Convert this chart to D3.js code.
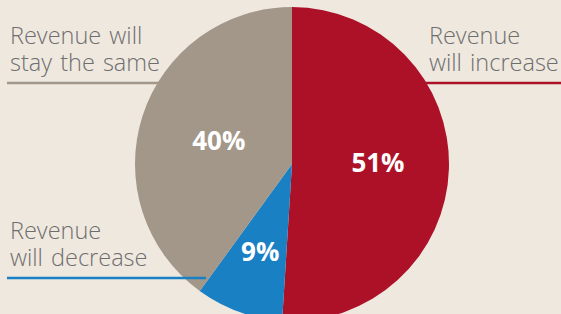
<!DOCTYPE html>
<html>
<head>
<meta charset="utf-8">
<script src="https://cdn.jsdelivr.net/npm/d3@7"></script>
<style>
  html, body { margin: 0; padding: 0; background: #EEE8DF; }
  svg { display: block; }
</style>
</head>
<body>
<script>
// Data
const categories = ["Revenue will increase", "Revenue will decrease", "Revenue will stay the same"];
const values = [51, 9, 40];
const valueLabels = ["51%", "9%", "40%"];
const legendLines = [["Revenue", "will increase"], ["Revenue", "will decrease"], ["Revenue will", "stay the same"]];
const colors = ["#AD1128", "#1A80C4", "#A3978A"];

const W = 561, H = 314;
const cx = 292, cy = 164, R = 157;

const svg = d3.select("body").append("svg").attr("width", W).attr("height", H);
svg.append("rect").attr("width", W).attr("height", H).attr("fill", "#EEE8DF");

const pie = d3.pie().sort(null).value(d => d)(values);
const arc = d3.arc().innerRadius(0).outerRadius(R);

const g = svg.append("g").attr("transform", `translate(${cx},${cy})`);
g.selectAll("path").data(pie).join("path")
  .attr("d", arc)
  .attr("fill", (d, i) => colors[i]);

// value labels
const labelR = [86, 94, 77];
const labelDy = [-4, -1, 0];
g.selectAll("text.val").data(pie).join("text")
  .attr("class", "val")
  .attr("x", (d, i) => Math.sin((d.startAngle + d.endAngle) / 2) * labelR[i])
  .attr("y", (d, i) => -Math.cos((d.startAngle + d.endAngle) / 2) * labelR[i] + labelDy[i])
  .attr("text-anchor", "middle")
  .attr("dy", "0.36em")
  .attr("fill", "#ffffff")
  .attr("font-family", "'Open Sans', sans-serif")
  .attr("font-weight", 700)
  .attr("font-size", 26)
  .text((d, i) => valueLabels[i]);

// legend lines & texts
const textColor = "#6E6E6E";
const ly = 83;
const half = Math.sqrt(R*R - (ly-cy)*(ly-cy));
const leaders = [
  { y: ly, x0: cx + half - 2, x1: W, tx: 429 },
  { y: 278, x0: 7, x1: 206, tx: 10 },
  { y: ly, x0: 7, x1: cx - half + 2, tx: 10 }
];
leaders.forEach((L, i) => {
  svg.append("line")
    .attr("x1", L.x0).attr("x2", L.x1)
    .attr("y1", L.y).attr("y2", L.y)
    .attr("stroke", colors[i]).attr("stroke-width", 2.5);
  legendLines[i].forEach((line, j) => {
    svg.append("text")
      .attr("x", L.tx).attr("y", L.y - 39 + j * 26.5)
      .attr("fill", textColor)
      .attr("font-family", "'Open Sans', sans-serif")
      .attr("font-weight", 300)
      .attr("font-size", 23.5)
      .attr("word-spacing", 2)
      .text(line);
  });
});
</script>
</body>
</html>
